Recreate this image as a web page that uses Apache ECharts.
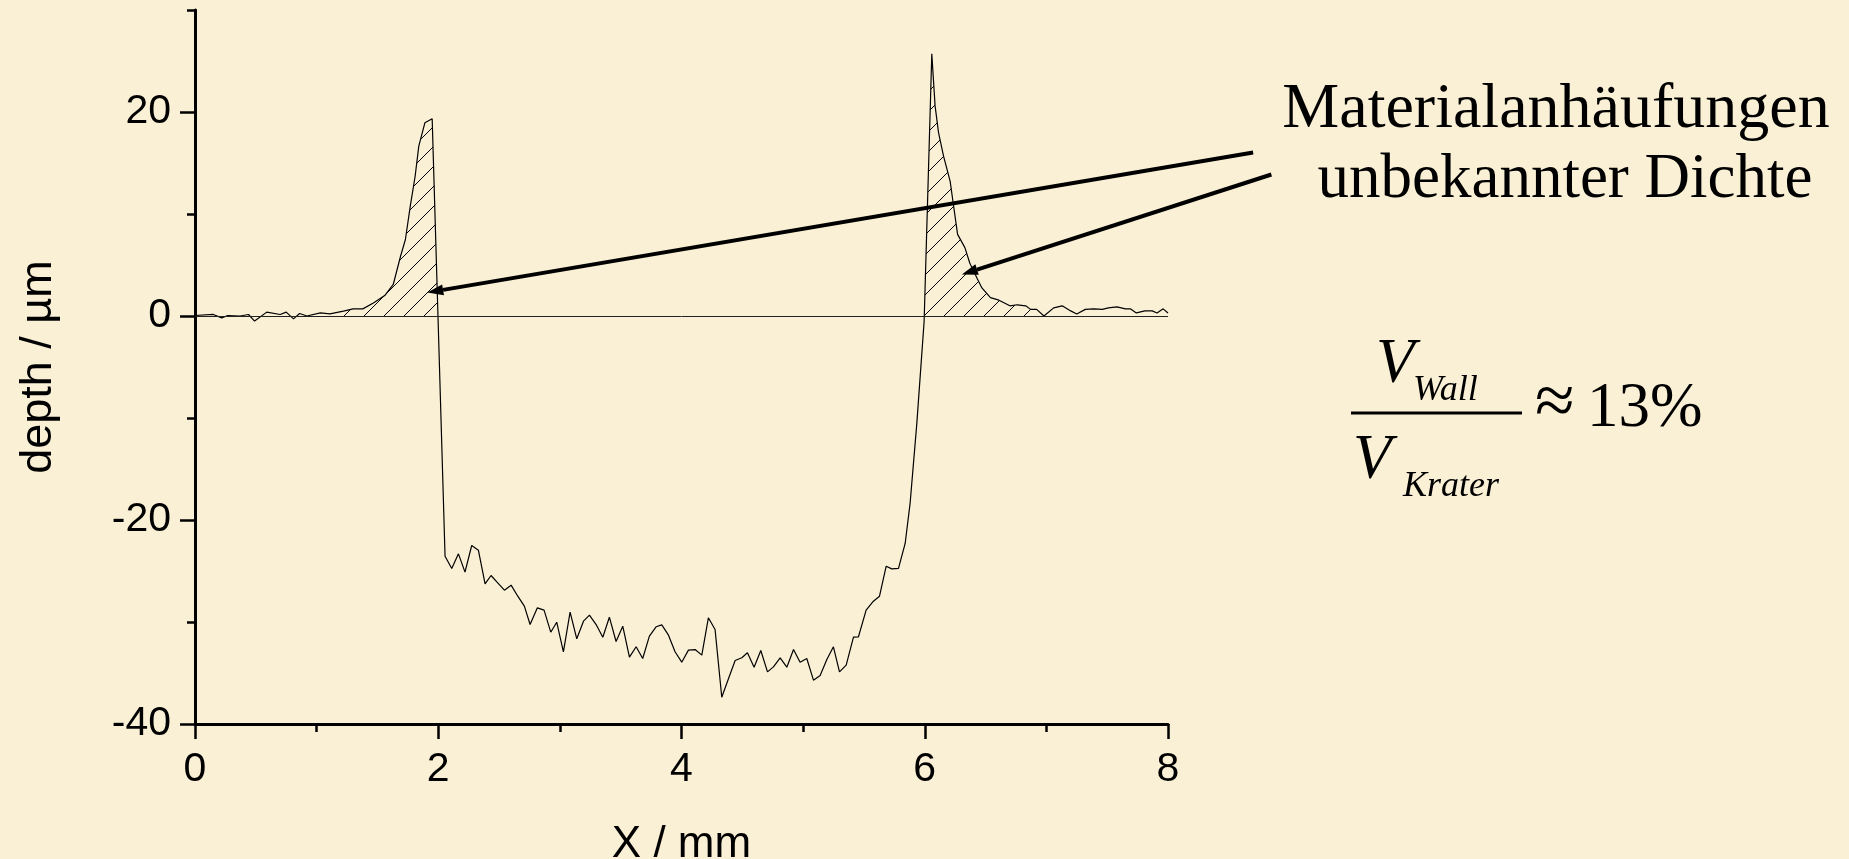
<!DOCTYPE html>
<html>
<head>
<meta charset="utf-8">
<title>Kraterprofil</title>
<script src="https://cdn.jsdelivr.net/npm/echarts@6.0.0/dist/echarts.min.js"></script>
<style>
  html, body { margin: 0; padding: 0; background: #faf0d5; }
  #chart { width: 1849px; height: 859px; }
</style>
</head>
<body>
<div id="chart"></div>
<script>
// profile across the crater, x in mm, depth in µm
var depthX = [
  0.00, 0.15, 0.22, 0.27, 0.37, 0.44, 0.49, 0.59, 0.70, 0.75, 0.81, 0.86, 0.92, 1.03,
  1.11, 1.22, 1.30, 1.38, 1.47, 1.56, 1.63, 1.69, 1.73, 1.77, 1.81, 1.84, 1.89, 1.95,
  2.056, 2.111, 2.166, 2.220, 2.275, 2.330, 2.385, 2.434, 2.489, 2.544,
  2.599, 2.654, 2.708, 2.755, 2.815, 2.870, 2.925, 2.974, 3.029, 3.084,
  3.139, 3.194, 3.243, 3.298, 3.353, 3.407, 3.462, 3.517, 3.572, 3.627,
  3.681, 3.736, 3.791, 3.838, 3.893, 3.947, 4.002, 4.057, 4.112, 4.167,
  4.221, 4.276, 4.331, 4.386, 4.441, 4.496, 4.542, 4.597, 4.652, 4.707,
  4.756, 4.811, 4.866, 4.921, 4.975, 5.030, 5.085, 5.140, 5.195, 5.249,
  5.299, 5.354, 5.414, 5.455, 5.518, 5.573, 5.628, 5.683, 5.729, 5.784,
  5.839, 5.880, 5.935, 5.995,
  6.058, 6.085, 6.113, 6.154, 6.209, 6.230, 6.270, 6.330, 6.370, 6.430,
  6.470, 6.540, 6.610, 6.700, 6.760, 6.830, 6.870, 6.920, 6.980, 7.060,
  7.130, 7.200, 7.250, 7.320, 7.390, 7.460, 7.510, 7.580, 7.650, 7.690,
  7.740, 7.810, 7.870, 7.910, 7.960, 8.000
];
var depthV = [
  0.05, 0.15, -0.18, 0.05, 0.00, 0.15, -0.50, 0.38, 0.15, 0.38, -0.28, 0.25, 0.00, 0.30,
  0.20, 0.47, 0.70, 0.70, 1.29, 2.00, 3.09, 5.86, 7.50, 10.77, 13.70, 16.65, 18.94, 19.33,
  -23.55, -24.75, -23.32, -25.11, -22.50, -22.96, -26.26, -25.44, -26.16, -26.88,
  -26.39, -27.47, -28.45, -30.25, -28.61, -28.84, -31.00, -30.02, -32.92, -29.04,
  -31.65, -29.92, -29.33, -30.25, -31.49, -29.53, -31.91, -30.41, -33.45, -32.43,
  -33.58, -31.39, -30.47, -30.28, -31.29, -32.92, -33.94, -32.76, -32.70, -33.25,
  -29.59, -30.74, -37.37, -35.57, -33.77, -33.51, -33.02, -34.43, -32.79, -34.89,
  -34.40, -33.51, -34.43, -32.70, -33.94, -33.58, -35.70, -35.25, -33.68, -32.43,
  -34.89, -34.23, -31.49, -31.45, -28.84, -28.02, -27.47, -24.53, -24.79, -24.75,
  -22.30, -18.32, -10.5, -0.5,
  25.7, 20.6, 18.0, 15.7, 13.2, 11.4, 8.0, 6.7, 5.2, 3.7,
  2.75, 1.8, 1.55, 1.0, 1.1, 1.0, 0.65, 0.65, 0.0, 0.8,
  1.0, 0.5, 0.2, 0.65, 0.7, 0.65, 0.8, 0.9, 0.7, 0.7,
  0.3, 0.5, 0.5, 0.3, 0.7, 0.3
];
// the two hatched walls (x ranges, mm)
var wallLeft = [1.22, 2.06];
var wallRight = [5.93, 6.98];
// arrows: tail and tip in data coordinates
var arrowTails = [[8.70, 16.03], [8.85, 13.87]];
var arrowTips = [[1.91, 2.3], [6.305, 4.07]];

var xMin = 0, xMax = 8, xStep = 2;
var yMin = -40, yMax = 30, yStep = 10, yLabelStep = 20;

var serif = '"Liberation Serif", "Times New Roman", serif';
var sans = '"Liberation Sans", Arial, sans-serif';

function profile() {
  var pts = [];
  for (var i = 0; i < depthX.length; i++) pts.push([depthX[i], depthV[i]]);
  return pts;
}

// part of the profile above zero inside one range, cut at the zero crossing
function wallArea(range) {
  var pts = [];
  for (var i = 1; i < depthX.length; i++) {
    var x0 = depthX[i - 1], v0 = depthV[i - 1], x1 = depthX[i], v1 = depthV[i];
    if (x0 < range[0] || x1 > range[1]) continue;
    if (v0 >= 0 && !pts.length) pts.push([x0, v0]);
    if ((v0 >= 0) !== (v1 >= 0)) pts.push([x0 + (x1 - x0) * v0 / (v0 - v1), 0]);
    if (v1 >= 0) pts.push([x1, v1]);
  }
  return pts;
}

var hatch = document.createElement('canvas');
hatch.width = 20;
hatch.height = 20;
var hctx = hatch.getContext('2d');
hctx.strokeStyle = '#000';
hctx.lineWidth = 1;
hctx.beginPath();
hctx.moveTo(-2, 22); hctx.lineTo(22, -2);
hctx.moveTo(-12, 12); hctx.lineTo(12, -12);
hctx.moveTo(8, 32); hctx.lineTo(32, 8);
hctx.stroke();

var axisColor = '#000';
var dom = document.getElementById('chart');
var myChart = echarts.init(dom, null, { renderer: 'canvas' });

var option = {
  backgroundColor: '#faf0d5',
  animation: false,
  grid: [
    { left: 195, right: 681, top: 10, bottom: 135, outerBoundsMode: 'none' },
    { left: 195, right: 681, top: 112, bottom: 135, outerBoundsMode: 'none' }
  ],
  xAxis: [
    {
      type: 'value',
      gridIndex: 0,
      min: xMin,
      max: xMax,
      interval: xStep,
      name: 'X / mm',
      nameLocation: 'middle',
      nameGap: 99,
      nameTextStyle: { fontFamily: sans, fontSize: 44, color: '#000' },
      axisLine: { show: true, onZero: false, lineStyle: { color: axisColor, width: 3 } },
      axisTick: { show: true, length: 15, lineStyle: { color: axisColor, width: 2.5 } },
      minorTick: { show: true, splitNumber: 2, length: 8, lineStyle: { color: axisColor, width: 2.5 } },
      axisLabel: { fontFamily: sans, fontSize: 41, color: '#000', margin: 25 },
      splitLine: { show: false },
      minorSplitLine: { show: false }
    },
    { type: 'value', gridIndex: 1, min: xMin, max: xMax, show: false }
  ],
  yAxis: [
    {
      type: 'value',
      gridIndex: 0,
      min: yMin,
      max: yMax,
      interval: yStep,
      name: 'depth / µm',
      nameLocation: 'middle',
      nameRotate: 90,
      nameGap: 134,
      nameTextStyle: { fontFamily: sans, fontSize: 45, color: '#000' },
      axisLine: { show: true, onZero: false, lineStyle: { color: axisColor, width: 3 } },
      axisTick: { show: true, length: 8, lineStyle: { color: axisColor, width: 2.5 } },
      axisLabel: {
        fontFamily: sans, fontSize: 41, color: '#000', margin: 24,
        formatter: function (v) { return v % yLabelStep === 0 ? String(v) : ''; }
      },
      splitLine: { show: false }
    },
    {
      // long ticks at the labelled values
      type: 'value',
      gridIndex: 1,
      min: yMin,
      max: 20,
      interval: yLabelStep,
      axisLine: { show: false },
      axisTick: { show: true, length: 15, lineStyle: { color: axisColor, width: 2.5 } },
      axisLabel: { show: false },
      splitLine: { show: false }
    }
  ],
  series: [
    {
      name: 'wall left',
      type: 'line',
      data: wallArea(wallLeft),
      showSymbol: false,
      silent: true,
      z: 2,
      lineStyle: { width: 0, opacity: 0 },
      areaStyle: { color: { image: hatch, repeat: 'repeat' }, opacity: 1 }
    },
    {
      name: 'wall right',
      type: 'line',
      data: wallArea(wallRight),
      showSymbol: false,
      silent: true,
      z: 2,
      lineStyle: { width: 0, opacity: 0 },
      areaStyle: { color: { image: hatch, repeat: 'repeat' }, opacity: 1 }
    },
    {
      name: 'depth',
      type: 'line',
      data: profile(),
      showSymbol: false,
      z: 3,
      lineStyle: { color: '#000', width: 1.2 },
      markLine: {
        silent: true,
        symbol: ['none', 'none'],
        label: { show: false },
        lineStyle: { color: '#222', width: 1, type: 'solid' },
        data: [{ yAxis: 0 }]
      }
    }
  ]
};
myChart.setOption(option);

// annotations
function arrow(tail, tip) {
  var a = myChart.convertToPixel({ gridIndex: 0 }, tail);
  var b = myChart.convertToPixel({ gridIndex: 0 }, tip);
  var dx = a[0] - b[0], dy = a[1] - b[1];
  var len = Math.sqrt(dx * dx + dy * dy);
  var ux = dx / len, uy = dy / len;
  var headL = 16, headW = 5.5;
  var bx = b[0] + ux * headL, by = b[1] + uy * headL;
  return [
    {
      type: 'line',
      shape: { x1: a[0], y1: a[1], x2: bx, y2: by },
      style: { stroke: '#000', lineWidth: 4 }
    },
    {
      type: 'polygon',
      shape: { points: [[b[0], b[1]], [bx - uy * headW, by + ux * headW], [bx + uy * headW, by - ux * headW]] },
      style: { fill: '#000' }
    }
  ];
}

function txt(str, x, y, size, italic, align) {
  return {
    type: 'text',
    x: x,
    y: y,
    style: {
      text: str,
      font: (italic ? 'italic ' : '') + size + 'px ' + serif,
      fill: '#000',
      align: align || 'left',
      verticalAlign: 'middle',
      textAlign: align || 'left',
      textVerticalAlign: 'middle'
    }
  };
}

var graphics = [];
graphics = graphics.concat(arrow(arrowTails[0], arrowTips[0]));
graphics = graphics.concat(arrow(arrowTails[1], arrowTips[1]));
graphics.push(txt('Materialanhäufungen', 1556, 110, 64, false, 'center'));
graphics.push(txt('unbekannter Dichte', 1565, 180, 63, false, 'center'));
graphics.push(txt('V', 1376, 365, 63, true));
graphics.push(txt('Wall', 1413, 391, 36, true));
graphics.push({
  type: 'line',
  shape: { x1: 1351, y1: 413, x2: 1522, y2: 413 },
  style: { stroke: '#000', lineWidth: 3 }
});
graphics.push(txt('≈', 1535, 405, 72, false));
graphics.push(txt('13%', 1587, 409, 63, false));
graphics.push(txt('V', 1353, 461, 63, true));
graphics.push(txt('Krater', 1403, 487, 36, true));

myChart.setOption({ graphic: graphics });
</script>
</body>
</html>
